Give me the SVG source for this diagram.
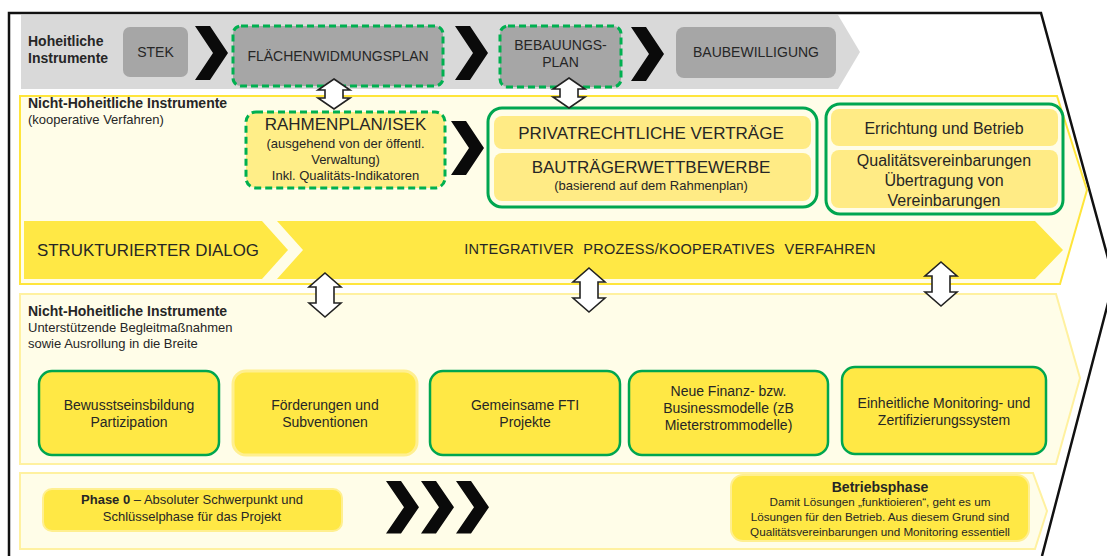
<svg xmlns="http://www.w3.org/2000/svg" width="1107" height="556" viewBox="0 0 1107 556">
<defs>
<style>
text{font-family:"Liberation Sans",Arial,sans-serif;fill:#262626}
.c{text-anchor:middle}
.b{font-weight:bold}
.gbox{fill:#A6A6A6}
.dash{stroke:#00B050;stroke-width:3;stroke-dasharray:7 4}
.green{stroke:#00A650;stroke-width:3;fill:none}
.ybright{fill:#FFE845}
.ylight{fill:#FFEB85}
.band{fill:#FFFDE8}
.arr{fill:#fff;stroke:#222;stroke-width:1.6;stroke-linejoin:miter}
.chev{fill:#0a0a0a}
</style>
<path id="chev" d="M0,0 H15 L33,27 L15,54 H0 L18,27 Z"/>
<path id="arrL" d="M0,-22 L16,-8 L9,-8 L9,8 L16,8 L0,22 L-16,8 L-9,8 L-9,-8 L-16,-8 Z"/>
<path id="arrS" d="M0,-15 L16,-4 L9,-4 L9,4 L16,4 L0,15 L-16,4 L-9,4 L-9,-4 L-16,-4 Z"/>
</defs>
<rect width="1107" height="556" fill="#fff"/>

<g id="frame">
<path d="M9,556 V13 H1041 L1114,280 L1042,556" fill="none" stroke="#111" stroke-width="2.5"/>
</g>

<g id="band-hoheitlich">
<polygon points="21,15 838,15 860,52 838,89 21,89" fill="#D9D9D9"/>
<text x="28" y="46" class="b" font-size="14">Hoheitliche</text>
<text x="28" y="63" class="b" font-size="14">Instrumente</text>
</g>
<g id="node-stek">
<rect x="123" y="27" width="65" height="50" rx="7" class="gbox"/>
<text x="155.5" y="57" class="c" font-size="14">STEK</text>
</g>
<g id="node-fwp">
<rect x="233" y="26" width="210" height="60" rx="8" class="gbox dash"/>
<text x="338" y="61" class="c" font-size="14">FLÄCHENWIDMUNGSPLAN</text>
</g>
<g id="node-bplan">
<rect x="500" y="26" width="121" height="61" rx="8" class="gbox dash"/>
<text x="560.5" y="50" class="c" font-size="14">BEBAUUNGS-</text>
<text x="560.5" y="67" class="c" font-size="14">PLAN</text>
</g>
<g id="node-baubew">
<rect x="676" y="27" width="160" height="51" rx="8" class="gbox"/>
<text x="756" y="57" class="c" font-size="14">BAUBEWILLIGUNG</text>
</g>

<g id="band-kooperativ">
<polygon points="20,96 1057,96 1087,190 1060,284 20,284" class="band" stroke="#FFE53A" stroke-width="2"/>
<text x="28" y="108" class="b" font-size="14">Nicht-Hoheitliche Instrumente</text>
<text x="28" y="124" font-size="13">(kooperative Verfahren)</text>
</g>
<g id="node-rahmenplan">
<rect x="246" y="112" width="199" height="76" rx="10" fill="#FFEE88" class="dash"/>
<text x="345.5" y="130" class="c" font-size="17">RAHMENPLAN/ISEK</text>
<text x="345.5" y="148" class="c" font-size="13">(ausgehend von der öffentl.</text>
<text x="345.5" y="164" class="c" font-size="13">Verwaltung)</text>
<text x="345.5" y="180" class="c" font-size="13">Inkl.  Qualitäts-Indikatoren</text>
</g>
<g id="node-vertraege">
<rect x="494" y="116" width="317" height="33" rx="8" class="ylight"/>
<rect x="494" y="153" width="317" height="48" rx="8" class="ylight"/>
<rect x="488" y="108" width="329" height="99" rx="14" class="green"/>
<text x="651" y="139" class="c" font-size="17">PRIVATRECHTLICHE VERTRÄGE</text>
<text x="651" y="173" class="c" font-size="17">BAUTRÄGERWETTBEWERBE</text>
<text x="651" y="190" class="c" font-size="13">(basierend auf dem Rahmenplan)</text>
</g>
<g id="node-errichtung">
<rect x="831" y="109" width="227" height="37" rx="8" class="ylight"/>
<rect x="831" y="150" width="227" height="58" rx="8" class="ylight"/>
<rect x="826" y="104" width="237" height="110" rx="14" class="green"/>
<text x="944" y="134" class="c" font-size="16">Errichtung und Betrieb</text>
<text x="944" y="166" class="c" font-size="16">Qualitätsvereinbarungen</text>
<text x="944" y="186" class="c" font-size="16">Übertragung von</text>
<text x="944" y="206" class="c" font-size="16">Vereinbarungen</text>
</g>
<g id="node-dialog">
<polygon points="24,221 262,221 288,250 262,279 24,279" class="ybright"/>
<text x="37" y="256" font-size="17" textLength="222" lengthAdjust="spacingAndGlyphs">STRUKTURIERTER DIALOG</text>
</g>
<g id="node-prozess">
<polygon points="277,221 1035,221 1063,250 1035,279 277,279 303,250" class="ybright"/>
<text x="670" y="254" class="c" font-size="14.5" letter-spacing="0.3" word-spacing="5">INTEGRATIVER PROZESS/KOOPERATIVES VERFAHREN</text>
</g>

<g id="band-begleit">
<polygon points="20,294 1056,294 1080,378 1056,464 20,464" class="band" stroke="#FFF1A0" stroke-width="2"/>
<text x="28" y="316" class="b" font-size="14">Nicht-Hoheitliche Instrumente</text>
<text x="28" y="332" font-size="13">Unterstützende Begleitmaßnahmen</text>
<text x="28" y="348" font-size="13">sowie Ausrollung in die Breite</text>
</g>
<g id="node-bewusstsein">
<rect x="39" y="371" width="180" height="84" rx="13" class="ybright" stroke="#00A650" stroke-width="2.5"/>
<text x="129" y="410" class="c" font-size="14">Bewusstseinsbildung</text>
<text x="129" y="427" class="c" font-size="14">Partizipation</text>
</g>
<g id="node-foerderungen">
<rect x="233" y="371" width="184" height="84" rx="13" class="ybright" stroke="#FFEF90" stroke-width="3"/>
<text x="325" y="410" class="c" font-size="14">Förderungen  und</text>
<text x="325" y="427" class="c" font-size="14">Subventionen</text>
</g>
<g id="node-fti">
<rect x="430" y="371" width="190" height="84" rx="13" class="ybright" stroke="#00A650" stroke-width="2.5"/>
<text x="525" y="410" class="c" font-size="14">Gemeinsame FTI</text>
<text x="525" y="427" class="c" font-size="14">Projekte</text>
</g>
<g id="node-finanz">
<rect x="629" y="371" width="199" height="84" rx="13" class="ybright" stroke="#00A650" stroke-width="2.5"/>
<text x="728.5" y="396" class="c" font-size="14">Neue Finanz- bzw.</text>
<text x="728.5" y="413" class="c" font-size="14">Businessmodelle (zB</text>
<text x="728.5" y="430" class="c" font-size="14">Mieterstrommodelle)</text>
</g>
<g id="node-monitoring">
<rect x="842" y="367" width="204" height="87" rx="13" class="ybright" stroke="#00A650" stroke-width="2.5"/>
<text x="944" y="408" class="c" font-size="14">Einheitliche Monitoring- und</text>
<text x="944" y="425" class="c" font-size="14">Zertifizierungssystem</text>
</g>

<g id="band-phasen">
<polygon points="20,473 1033,473 1047,511 1035,549 20,549" class="band" stroke="#FFF1A0" stroke-width="2"/>
</g>
<g id="node-phase0">
<rect x="43" y="489" width="299" height="42" rx="9" class="ybright" stroke="#FFEF90" stroke-width="2"/>
<text x="192" y="504" class="c" font-size="13"><tspan class="b">Phase 0</tspan> – Absoluter Schwerpunkt  und</text>
<text x="192" y="521" class="c" font-size="13">Schlüsselphase für das Projekt</text>
</g>
<g id="node-betriebsphase">
<rect x="731" y="475" width="298" height="66" rx="12" class="ybright" stroke="#FFEF90" stroke-width="2"/>
<text x="880" y="492" class="c b" font-size="14">Betriebsphase</text>
<text x="880" y="506" class="c" font-size="11.7">Damit Lösungen „funktioieren“,  geht es um</text>
<text x="880" y="521" class="c" font-size="11.7">Lösungen  für den Betrieb. Aus diesem Grund sind</text>
<text x="880" y="536" class="c" font-size="11.7">Qualitätsvereinbarungen  und Monitoring essentiell</text>
</g>

<g id="connectors">
<use href="#chev" class="chev" transform="translate(195,26)"/>
<use href="#chev" class="chev" transform="translate(455,26)"/>
<use href="#chev" class="chev" transform="translate(631,27)"/>
<use href="#chev" class="chev" transform="translate(451,121)"/>
<use href="#chev" class="chev" transform="translate(386,481) scale(1,0.97)"/>
<use href="#chev" class="chev" transform="translate(421,481) scale(1,0.97)"/>
<use href="#chev" class="chev" transform="translate(456,481) scale(1,0.97)"/>
<use href="#arrS" class="arr" transform="translate(334,94)"/>
<use href="#arrS" class="arr" transform="translate(569,93)"/>
<use href="#arrL" class="arr" transform="translate(325,295)"/>
<use href="#arrL" class="arr" transform="translate(589,290)"/>
<use href="#arrL" class="arr" transform="translate(941,284)"/>
</g>
</svg>
